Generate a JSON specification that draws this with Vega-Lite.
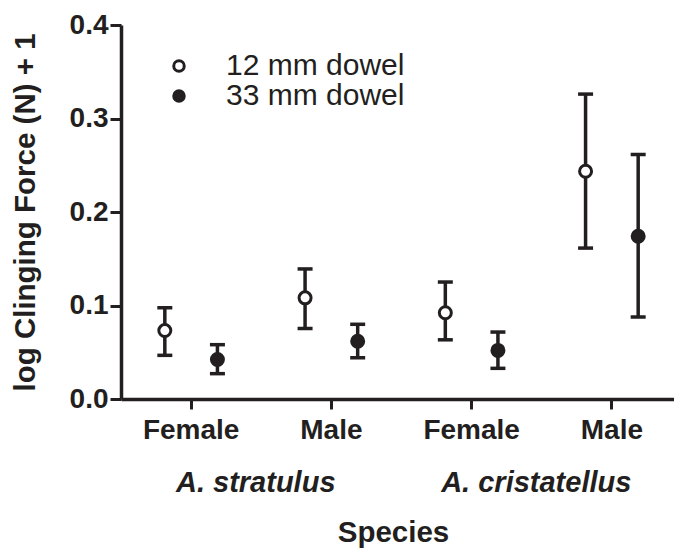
{
  "$schema": "https://vega.github.io/schema/vega-lite/v6.json",
  "autosize": {"type": "none"},
  "padding": {"left": 121, "top": 25, "right": 0, "bottom": 154},
  "width": 553,
  "height": 374,
  "background": "white",
  "config": {
    "view": {"stroke": null},
    "font": "Liberation Sans",
    "axis": {"labelColor": "#231f20", "titleColor": "#231f20", "domainColor": "#231f20", "tickColor": "#231f20", "grid": false}
  },
  "data": {
    "values": [
      {"species": "A. stratulus", "group": "A. stratulus Female", "dowel": "12 mm dowel", "mean": 0.0732, "lo": 0.0467, "hi": 0.0976},
      {"species": "A. stratulus", "group": "A. stratulus Female", "dowel": "33 mm dowel", "mean": 0.0422, "lo": 0.0271, "hi": 0.0581},
      {"species": "A. stratulus", "group": "A. stratulus Male", "dowel": "12 mm dowel", "mean": 0.1082, "lo": 0.0754, "hi": 0.1391},
      {"species": "A. stratulus", "group": "A. stratulus Male", "dowel": "33 mm dowel", "mean": 0.0618, "lo": 0.0441, "hi": 0.0799},
      {"species": "A. cristatellus", "group": "A. cristatellus Female", "dowel": "12 mm dowel", "mean": 0.0923, "lo": 0.0633, "hi": 0.1251},
      {"species": "A. cristatellus", "group": "A. cristatellus Female", "dowel": "33 mm dowel", "mean": 0.0520, "lo": 0.0328, "hi": 0.0716},
      {"species": "A. cristatellus", "group": "A. cristatellus Male", "dowel": "12 mm dowel", "mean": 0.2436, "lo": 0.1614, "hi": 0.3261},
      {"species": "A. cristatellus", "group": "A. cristatellus Male", "dowel": "33 mm dowel", "mean": 0.1741, "lo": 0.0878, "hi": 0.2616}
    ]
  },
  "resolve": {"scale": {"x": "independent"}, "axis": {"x": "independent"}},
  "layer": [
    {
      "encoding": {
        "x": {
          "field": "group",
          "type": "nominal",
          "scale": {
            "domain": ["A. stratulus Female", "A. stratulus Male", "A. cristatellus Female", "A. cristatellus Male"],
            "range": [0, 561],
            "paddingInner": 0,
            "paddingOuter": 0
          },
          "axis": {
            "orient": "bottom",
            "title": null,
            "labelExpr": "split(datum.label, ' ')[2]",
            "labelAngle": 0,
            "labelFontSize": 28,
            "labelFontWeight": "bold",
            "labelPadding": 7,
            "labelLimit": 400,
            "tickSize": 10,
            "tickWidth": 3,
            "domainWidth": 3.5
          }
        },
        "xOffset": {
          "field": "dowel",
          "type": "nominal",
          "scale": {"domain": ["12 mm dowel", "33 mm dowel"], "paddingInner": 0, "paddingOuter": 0.333}
        }
      },
      "layer": [
        {
          "mark": {"type": "rule", "strokeWidth": 3.5, "color": "#231f20"},
          "encoding": {
            "y": {
              "field": "lo",
              "type": "quantitative",
              "scale": {"domain": [0, 0.4], "nice": false, "zero": true},
              "axis": {
                "title": "log Clinging Force (N) + 1",
                "titleFontSize": 29.5,
                "titleFontWeight": "bold",
                "titlePadding": 29,
                "titleLimit": 600,
                "values": [0, 0.1, 0.2, 0.3, 0.4],
                "format": ".1f",
                "labelFontSize": 28,
                "labelFontWeight": "bold",
                "labelPadding": 2,
                "tickSize": 11,
                "tickWidth": 3,
                "domainWidth": 3.5
              }
            },
            "y2": {"field": "hi"}
          }
        },
        {
          "mark": {"type": "tick", "thickness": 3.5, "size": 15, "color": "#231f20", "opacity": 1},
          "encoding": {"y": {"field": "lo", "type": "quantitative"}}
        },
        {
          "mark": {"type": "tick", "thickness": 3.5, "size": 15, "color": "#231f20", "opacity": 1},
          "encoding": {"y": {"field": "hi", "type": "quantitative"}}
        },
        {
          "mark": {"type": "point", "shape": "circle", "filled": true, "size": 144, "stroke": "#231f20", "strokeWidth": 3, "opacity": 1},
          "encoding": {
            "y": {"field": "mean", "type": "quantitative"},
            "fill": {
              "field": "dowel",
              "type": "nominal",
              "scale": {"domain": ["12 mm dowel", "33 mm dowel"], "range": ["white", "#231f20"]},
              "legend": {
                "title": null,
                "orient": "none",
                "legendX": 43,
                "legendY": 26,
                "symbolType": "circle",
                "symbolSize": 110,
                "symbolStrokeColor": "#231f20",
                "symbolStrokeWidth": 3,
                "labelFontSize": 30,
                "labelColor": "#231f20",
                "labelOffset": 32,
                "labelLimit": 400,
                "rowPadding": 0
              }
            }
          }
        }
      ]
    },
    {
      "mark": {"type": "point", "opacity": 0},
      "encoding": {
        "x": {
          "field": "species",
          "type": "nominal",
          "scale": {"domain": ["A. stratulus", "A. cristatellus"], "range": [0, 561], "paddingInner": 0, "paddingOuter": 0},
          "axis": {
            "orient": "bottom",
            "offset": 62,
            "domain": false,
            "ticks": false,
            "labelAngle": 0,
            "labelFontSize": 29,
            "labelFontWeight": "bold",
            "labelFontStyle": "italic",
            "labelPadding": 7,
            "labelOffset": -6,
            "labelLimit": 400,
            "title": "Species",
            "titleFontSize": 29.5,
            "titleFontWeight": "bold",
            "titlePadding": 21,
            "titleX": 272
          }
        }
      }
    }
  ]
}
